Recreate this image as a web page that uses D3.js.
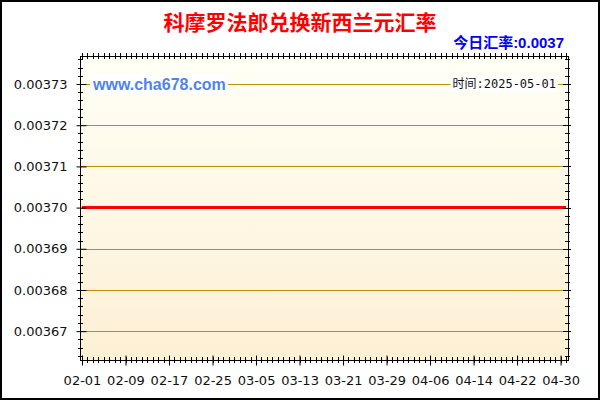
<!DOCTYPE html>
<meta charset="utf-8">
<style>

body {
  margin: 0;
}

text {
  font-family: "DejaVu Sans", sans-serif;
}

</style>
<body>
<script src="https://cdn.jsdelivr.net/npm/d3@7/dist/d3.min.js"></script>
<script>

var width = 600,
    height = 400,
    title = "科摩罗法郎兑换新西兰元汇率",
    todayRate = "今日汇率:0.0037",
    timeLabel = "时间:2025-05-01",
    site = "www.cha678.com";

// rate (flat over the whole period)
var dates = ["2025-02-01", "2025-02-09", "2025-02-17", "2025-02-25", "2025-03-05",
             "2025-03-13", "2025-03-21", "2025-03-29", "2025-04-06", "2025-04-14",
             "2025-04-22", "2025-04-30", "2025-05-01"];
var rates = [0.0037, 0.0037, 0.0037, 0.0037, 0.0037,
             0.0037, 0.0037, 0.0037, 0.0037, 0.0037,
             0.0037, 0.0037, 0.0037];

var xTickLabels = ["02-01", "02-09", "02-17", "02-25", "03-05", "03-13",
                   "03-21", "03-29", "04-06", "04-14", "04-22", "04-30"];
var yTicks = [0.00367, 0.00368, 0.00369, 0.00370, 0.00371, 0.00372, 0.00373];

var parse = d3.timeParse("%Y-%m-%d");

var frame = {left: 80, right: 568, top: 56, bottom: 360};

var x = d3.scaleTime()
    .domain([parse("2025-02-01"), parse("2025-05-01")])
    .range([82, 566]);

var y = d3.scaleLinear()
    .domain([0.003663, 0.0037368])
    .range([frame.bottom, frame.top]);

var data = dates.map(function(d, i) {
  return {date: parse(d), rate: rates[i]};
});

var svg = d3.select("body").append("svg")
    .attr("width", width)
    .attr("height", height);

var defs = svg.append("defs");
var grad = defs.append("linearGradient")
    .attr("id", "bg")
    .attr("x1", 0).attr("y1", 0)
    .attr("x2", 0).attr("y2", 1);
grad.append("stop").attr("offset", "0%").attr("stop-color", "#fffff6");
grad.append("stop").attr("offset", "100%").attr("stop-color", "#fdf0d4");

svg.append("rect")
    .attr("width", width)
    .attr("height", height)
    .attr("fill", "white");

svg.append("rect")
    .attr("x", frame.left)
    .attr("y", frame.top)
    .attr("width", frame.right - frame.left)
    .attr("height", frame.bottom - frame.top)
    .attr("fill", "url(#bg)");

// grid
svg.append("g").selectAll("line")
    .data(yTicks)
  .enter().append("line")
    .attr("x1", frame.left)
    .attr("x2", frame.right)
    .attr("y1", function(d) { return Math.round(y(d)) + 0.5; })
    .attr("y2", function(d) { return Math.round(y(d)) + 0.5; })
    .attr("stroke", "#bf8f00")
    .attr("stroke-width", 1);

// watermark + time label with white boxes
var siteText = svg.append("text")
    .attr("x", 93)
    .attr("y", 84)
    .attr("dy", ".35em")
    .attr("fill", "#4f83f0")
    .style("font-family", "'Liberation Sans', Arial, sans-serif")
    .style("font-weight", "bold")
    .style("font-size", "16px")
    .text(site);

var timeText = svg.append("text")
    .attr("x", 556)
    .attr("y", 84)
    .attr("dy", ".35em")
    .attr("text-anchor", "end")
    .attr("fill", "#111")
    .style("font-family", "'DejaVu Sans Mono', 'Noto Sans CJK SC', monospace")
    .style("font-size", "12px")
    .text(timeLabel);

[siteText, timeText].forEach(function(t) {
  var b = t.node().getBBox();
  svg.insert("rect", function() { return t.node(); })
      .attr("x", b.x - 2)
      .attr("y", b.y - 1)
      .attr("width", b.width + 4)
      .attr("height", b.height + 2)
      .attr("fill", "white");
});

// rate line
var line = d3.line()
    .x(function(d) { return x(d.date); })
    .y(function(d) { return y(d.rate); });

svg.append("path")
    .datum(data)
    .attr("d", line)
    .attr("fill", "none")
    .attr("stroke", "red")
    .attr("stroke-width", 3);

// frame
svg.append("rect")
    .attr("x", frame.left + 0.5)
    .attr("y", frame.top + 0.5)
    .attr("width", frame.right - frame.left)
    .attr("height", frame.bottom - frame.top)
    .attr("fill", "none")
    .attr("stroke", "#000");

// minor ticks
var minorY = d3.range(0.003664, 0.003737, 0.000002).filter(function(v) {
  return Math.abs(v * 100000 - Math.round(v * 100000)) > 0.01;
});
var minorX = d3.timeDay.range(parse("2025-02-01"), parse("2025-05-02"));

var ticks = svg.append("g")
    .attr("stroke", "#000")
    .attr("stroke-width", 1);

ticks.selectAll(".my")
    .data(minorY)
  .enter().append("line")
    .attr("x1", frame.left - 2).attr("x2", frame.left + 3)
    .attr("y1", function(d) { return Math.round(y(d)) + 0.5; })
    .attr("y2", function(d) { return Math.round(y(d)) + 0.5; });

ticks.selectAll(".myr")
    .data(minorY)
  .enter().append("line")
    .attr("x1", frame.right - 3).attr("x2", frame.right + 2)
    .attr("y1", function(d) { return Math.round(y(d)) + 0.5; })
    .attr("y2", function(d) { return Math.round(y(d)) + 0.5; });

ticks.selectAll(".mx")
    .data(minorX)
  .enter().append("line")
    .attr("x1", function(d) { return Math.round(x(d)) + 0.5; })
    .attr("x2", function(d) { return Math.round(x(d)) + 0.5; })
    .attr("y1", frame.bottom - 3).attr("y2", frame.bottom + 3);

ticks.selectAll(".mxt")
    .data(minorX)
  .enter().append("line")
    .attr("x1", function(d) { return Math.round(x(d)) + 0.5; })
    .attr("x2", function(d) { return Math.round(x(d)) + 0.5; })
    .attr("y1", frame.top - 3).attr("y2", frame.top + 3);

ticks.selectAll(".myrm")
    .data(yTicks)
  .enter().append("line")
    .attr("x1", frame.right - 5).attr("x2", frame.right + 3)
    .attr("y1", function(d) { return Math.round(y(d)) + 0.5; })
    .attr("y2", function(d) { return Math.round(y(d)) + 0.5; });

// axes
var yAxis = d3.axisLeft(y)
    .tickValues(yTicks)
    .tickFormat(d3.format(".5f"))
    .tickSizeInner(4)
    .tickSizeOuter(0)
    .tickPadding(10);

var gy = svg.append("g")
    .attr("transform", "translate(" + (frame.left + 0.5) + ",0)")
    .call(yAxis);
gy.select(".domain").remove();
gy.selectAll(".tick line").attr("x2", -4).attr("x1", 6);
gy.selectAll("text")
    .attr("x", -13)
    .attr("fill", "#111")
    .style("font-size", "13px")
    .style("font-family", "'DejaVu Sans', sans-serif");

var xAxis = d3.axisBottom(x)
    .tickValues(xTickLabels.map(function(l) { return parse("2025-" + l); }))
    .tickFormat(d3.timeFormat("%m-%d"))
    .tickSizeInner(5)
    .tickSizeOuter(0);

var gx = svg.append("g")
    .attr("transform", "translate(0," + (frame.bottom + 0.5) + ")")
    .call(xAxis);
gx.select(".domain").remove();
gx.selectAll(".tick line").attr("y1", -5).attr("y2", 5);
gx.selectAll("text")
    .attr("y", 15)
    .attr("fill", "#111")
    .style("font-size", "13px")
    .style("font-family", "'DejaVu Sans', sans-serif");

// titles
svg.append("text")
    .attr("x", 300)
    .attr("y", 23)
    .attr("dy", ".35em")
    .attr("text-anchor", "middle")
    .attr("fill", "#f00")
    .style("font-family", "'Noto Sans CJK SC', sans-serif")
    .style("font-weight", "bold")
    .style("font-size", "21px")
    .text(title);

svg.append("text")
    .attr("x", 564)
    .attr("y", 43)
    .attr("dy", ".35em")
    .attr("text-anchor", "end")
    .attr("fill", "#0000ff")
    .style("font-family", "'Liberation Sans', 'Noto Sans CJK SC', sans-serif")
    .style("font-weight", "bold")
    .style("font-size", "15px")
    .text(todayRate);

// outer border
svg.append("rect")
    .attr("x", 1)
    .attr("y", 1)
    .attr("width", width - 2)
    .attr("height", height - 2)
    .attr("fill", "none")
    .attr("stroke", "#000")
    .attr("stroke-width", 2);

</script>
